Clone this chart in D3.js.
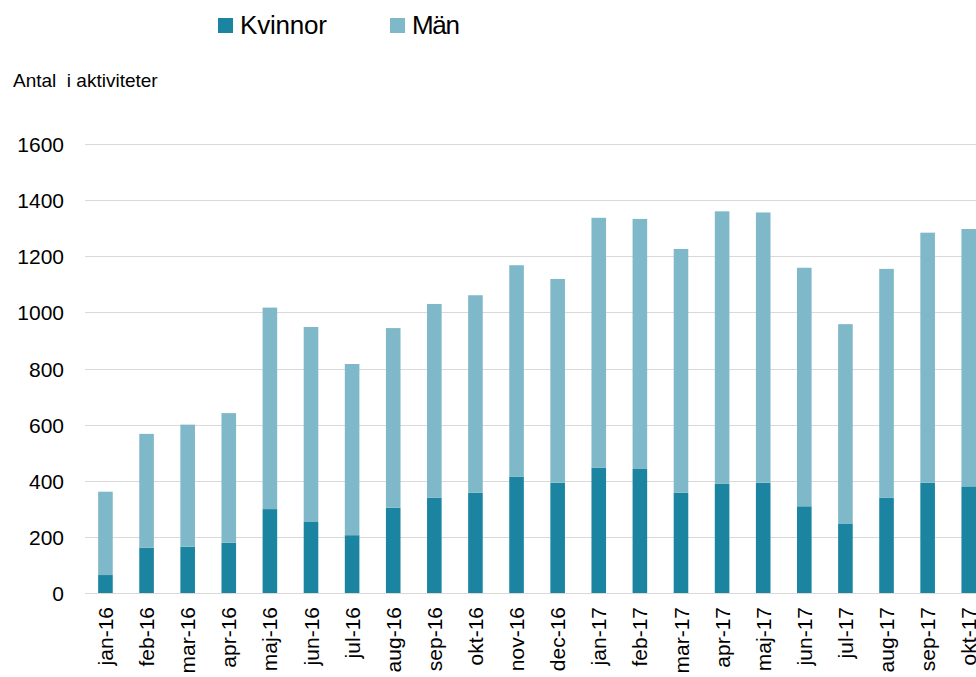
<!DOCTYPE html>
<html>
<head>
<meta charset="utf-8">
<script src="https://cdn.jsdelivr.net/npm/d3@7"></script>
<style>
  body { margin: 0; background: #fff; }
  svg { display: block; font-family: "Liberation Sans", Arial, sans-serif; }
</style>
</head>
<body>
<div id="chart"></div>
<script>
// Data

var months = ["jan-16", "feb-16", "mar-16", "apr-16", "maj-16", "jun-16", "jul-16", "aug-16",
    "sep-16", "okt-16", "nov-16", "dec-16", "jan-17", "feb-17", "mar-17", "apr-17",
    "maj-17", "jun-17", "jul-17", "aug-17", "sep-17", "okt-17"];

var kvinnor = [64, 161, 165, 179, 299, 255, 206, 304, 340, 357, 415, 393,
    447, 442, 357, 390, 393, 309, 246, 340, 393, 380];

var man = [297, 406, 435, 462, 718, 693, 610, 640, 690, 704, 753, 726,
    890, 891, 869, 970, 963, 850, 712, 815, 891, 917];

var yTicks = [0, 200, 400, 600, 800, 1000, 1200, 1400, 1600];

var seriesNames = ["Kvinnor", "Män"];
var colors = ["#1b84a1", "#7fb8c9"];

var width = 976,
    height = 677;

var svg = d3.select("#chart")
    .append("svg")
    .attr("width", width)
    .attr("height", height);

// Scales

var x = d3.scaleBand()
    .domain(months)
    .range([85, 85 + months.length * 41.1])
    .paddingInner(0.645)
    .paddingOuter(0.32);

var y = d3.scaleLinear()
    .domain([0, 1600])
    .range([593, 144]);

// Gridlines

svg.append("g")
    .selectAll("line")
    .data(yTicks)
    .enter().append("line")
    .attr("x1", 85)
    .attr("x2", width)
    .attr("y1", function(d) { return Math.round(y(d)) + 0.5 })
    .attr("y2", function(d) { return Math.round(y(d)) + 0.5 })
    .attr("stroke", "#d9d9d9")
    .attr("stroke-width", 1);

// Y axis labels

var yAxis = d3.axisLeft(y)
    .tickValues(yTicks)
    .tickFormat(d3.format("d"))
    .tickSize(0)
    .tickPadding(0);

svg.append("g")
    .attr("transform", "translate(64,0)")
    .call(yAxis)
    .call(function(g) { g.select(".domain").remove() })
    .selectAll("text")
    .attr("font-size", "21px")
    .attr("font-family", "Liberation Sans, Arial, sans-serif")
    .attr("fill", "#000")
    .attr("dy", "0.36em");

// Stacked bars

var table = months.map(function(m, i) {
    return { month: m, Kvinnor: kvinnor[i], "Män": man[i] };
});

var stacked = d3.stack().keys(seriesNames)(table);

svg.append("g")
    .selectAll("g")
    .data(stacked)
    .enter().append("g")
    .attr("fill", function(d, i) { return colors[i] })
    .selectAll("rect")
    .data(function(d) { return d })
    .enter().append("rect")
    .attr("x", function(d) { return x(d.data.month) })
    .attr("width", x.bandwidth())
    .attr("y", function(d) { return y(d[1]) })
    .attr("height", function(d) { return y(d[0]) - y(d[1]) });

// X axis labels (rotated)

var xAxis = d3.axisBottom(x).tickSize(0).tickPadding(0);

svg.append("g")
    .attr("transform", "translate(0,593)")
    .call(xAxis)
    .call(function(g) { g.select(".domain").remove() })
    .selectAll("text")
    .attr("font-size", "21px")
    .attr("font-family", "Liberation Sans, Arial, sans-serif")
    .attr("fill", "#000")
    .attr("text-anchor", "end")
    .attr("transform", "rotate(-90)")
    .attr("x", -14)
    .attr("y", 0)
    .attr("dy", "0.36em");

// Axis title

svg.append("text")
    .attr("x", 13)
    .attr("y", 87)
    .attr("font-size", "19px")
    .attr("fill", "#000")
    .attr("xml:space", "preserve")
    .text("Antal  i aktiviteter");

// Legend

var legend = svg.append("g");

var legendX = [218, 390];
var legendW = [87, 48];

legend.selectAll("rect")
    .data(seriesNames)
    .enter().append("rect")
    .attr("x", function(d, i) { return legendX[i] })
    .attr("y", 18)
    .attr("width", 15)
    .attr("height", 15)
    .attr("fill", function(d, i) { return colors[i] });

legend.selectAll("text")
    .data(seriesNames)
    .enter().append("text")
    .attr("x", function(d, i) { return legendX[i] + 22 })
    .attr("y", 34)
    .attr("font-size", "26px")
    .attr("fill", "#000")
    .attr("textLength", function(d, i) { return legendW[i] })
    .text(function(d) { return d });
</script>
</body>
</html>
